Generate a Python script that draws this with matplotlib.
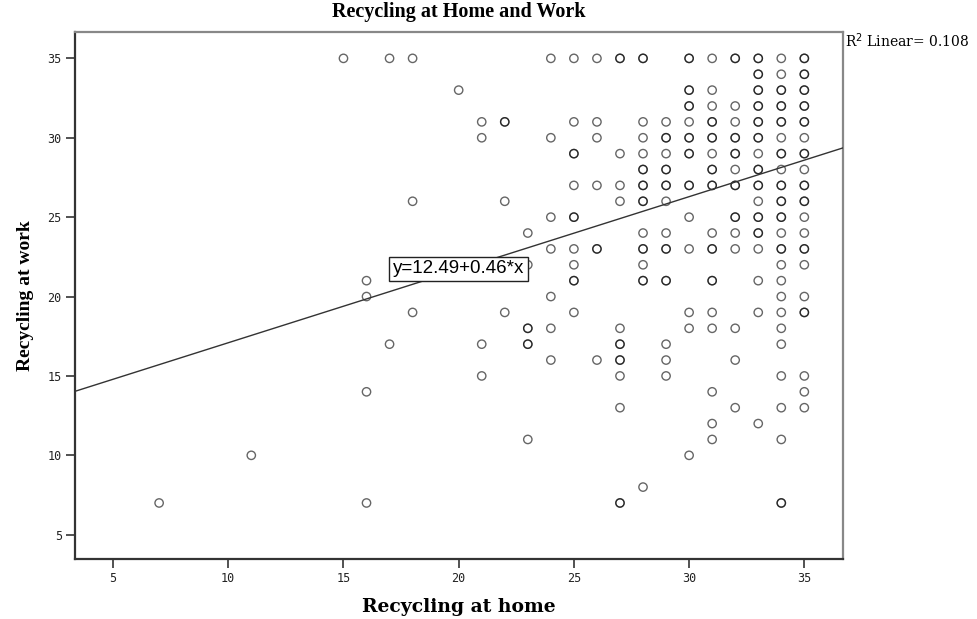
import matplotlib
matplotlib.use("Agg")
import matplotlib.pyplot as plt

# one entry per case, grouped by "Recycling at home" value
home = (
    [7] + [11] + [15] + [16] * 4 + [17] * 2 + [18] * 3 + [20] + [21] * 4 + [22] * 3
    + [23] * 5 + [24] * 7 + [25] * 9 + [26] * 6 + [27] * 10 + [28] * 12 + [29] * 12
    + [30] * 12 + [31] * 16 + [32] * 13 + [33] * 16 + [34] * 23 + [35] * 19
)
work = (
    [7]
    + [10]
    + [35]
    + [21, 20, 14, 7]
    + [35, 17]
    + [35, 26, 19]
    + [33]
    + [31, 30, 17, 15]
    + [31, 26, 19]
    + [24, 22, 18, 17, 11]
    + [35, 30, 25, 23, 20, 18, 16]
    + [35, 31, 29, 27, 25, 23, 22, 21, 19]
    + [35, 31, 30, 27, 23, 16]
    + [35, 29, 27, 26, 18, 17, 16, 15, 13, 7]
    + [35, 31, 30, 29, 28, 27, 26, 24, 23, 22, 21, 8]
    + [31, 30, 29, 28, 27, 26, 24, 23, 21, 17, 16, 15]
    + [35, 33, 32, 31, 30, 29, 27, 25, 23, 19, 18, 10]
    + [35, 33, 32, 31, 30, 29, 28, 27, 24, 23, 21, 19, 18, 14, 12, 11]
    + [35, 32, 31, 30, 29, 28, 27, 25, 24, 23, 18, 16, 13]
    + [35, 34, 33, 32, 31, 30, 29, 28, 27, 26, 25, 24, 23, 21, 19, 12]
    + [35, 34, 33, 32, 31, 30, 29, 28, 27, 26, 25, 24, 23, 22, 21, 20, 19, 18, 17, 15, 13, 11, 7]
    + [35, 34, 33, 32, 31, 30, 29, 28, 27, 26, 25, 24, 23, 22, 20, 19, 15, 14, 13]
)

# coordinates holding more than one case (drawn darker)
repeat_home = [27, 28, 30, 32, 33, 35, 33, 35, 30, 33, 34, 35, 30, 33, 34, 35,
               22, 31, 33, 34, 35, 29, 30, 31, 32, 33, 25, 30, 32, 34, 35,
               28, 29, 31, 33, 28, 29, 30, 31, 32, 33, 34, 35, 28, 34, 35,
               25, 32, 33, 34, 33, 26, 28, 29, 31, 34, 35, 25, 28, 29, 31,
               35, 23, 23, 27, 27, 27, 34]
repeat_work = [35, 35, 35, 35, 35, 35, 34, 34, 33, 33, 33, 33, 32, 32, 32, 32,
               31, 31, 31, 31, 31, 30, 30, 30, 30, 30, 29, 29, 29, 29, 29,
               28, 28, 28, 28, 27, 27, 27, 27, 27, 27, 27, 27, 26, 26, 26,
               25, 25, 25, 25, 24, 23, 23, 23, 23, 23, 23, 21, 21, 21, 21,
               19, 18, 17, 17, 16, 7, 7]

intercept = 12.49
slope = 0.46
r_squared = 0.108

xlim = (3.35, 36.68)
ylim = (3.47, 36.66)
ticks = [5, 10, 15, 20, 25, 30, 35]

fig = plt.figure(figsize=(9.78, 6.19), dpi=100)
ax = fig.add_axes([0.0767, 0.0969, 0.7853, 0.8514])

ax.scatter(home + repeat_home, work + repeat_work, s=36, facecolors="none",
           edgecolors="black", linewidths=1.0, alpha=0.6, zorder=2)

ax.plot(list(xlim), [intercept + slope * xlim[0], intercept + slope * xlim[1]],
        color="#333333", lw=1.0, zorder=3)

ax.text(20.0, 21.75, f"y={intercept}+{slope}*x", family="Liberation Sans",
        fontsize=13.5, ha="center", va="center", zorder=4,
        bbox=dict(boxstyle="square,pad=0.2", fc="white", ec="#222222", lw=1.0))

ax.set_xlim(*xlim)
ax.set_ylim(*ylim)
ax.set_xticks(ticks)
ax.set_yticks(ticks)
ax.tick_params(direction="out", length=6.5, width=1.2, color="#333333",
               labelsize=8.5, labelcolor="#222222", pad=3)
for lab in ax.get_xticklabels() + ax.get_yticklabels():
    lab.set_family("DejaVu Sans Mono")

for side in ("left", "bottom"):
    ax.spines[side].set_color("#333333")
    ax.spines[side].set_linewidth(1.6)
for side in ("top", "right"):
    ax.spines[side].set_color("#888888")
    ax.spines[side].set_linewidth(1.6)

ax.set_title("Recycling at Home and Work", family="Liberation Serif",
             fontweight="bold", fontsize=14.5, pad=11)
ax.set_xlabel("Recycling at home", family="DejaVu Serif",
              fontweight="bold", fontsize=13.5, labelpad=9)
ax.set_ylabel("Recycling at work", family="Liberation Serif",
              fontweight="bold", fontsize=14, labelpad=10)

fig.text(0.864, 0.935, f"R$^2$ Linear= {r_squared}", family="DejaVu Serif",
         fontsize=10, ha="left", va="center")

fig.savefig("out.png", dpi=100)
